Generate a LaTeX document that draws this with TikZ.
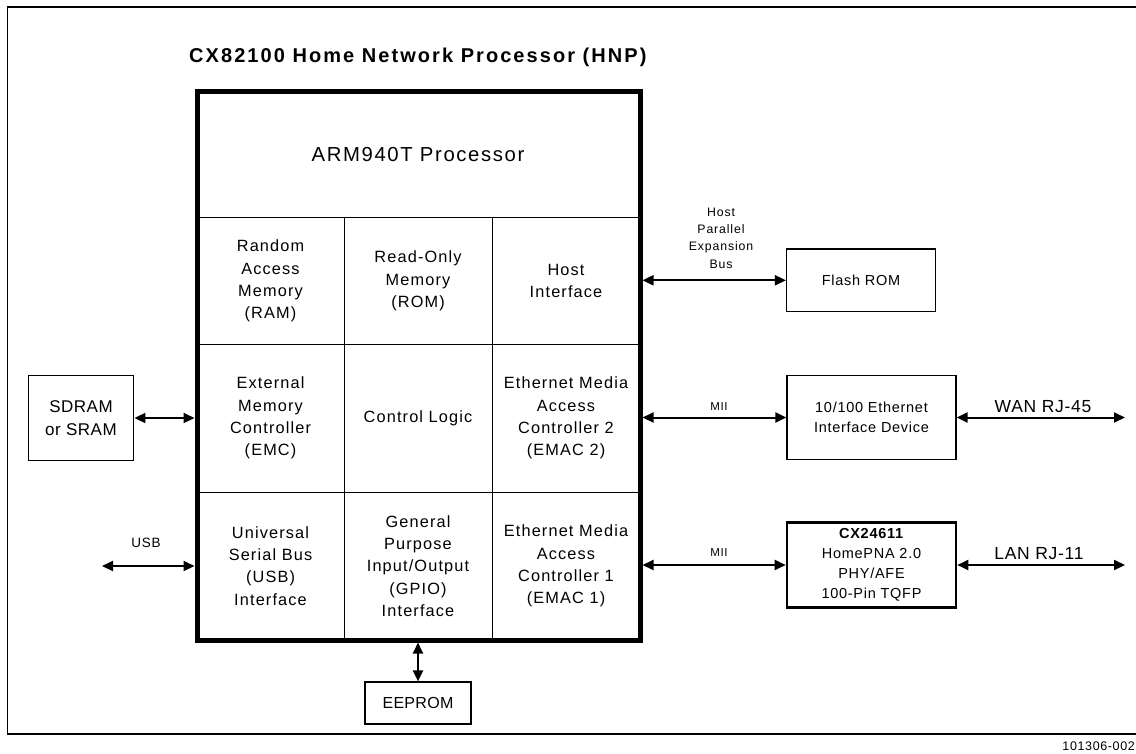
\documentclass[tikz,border=0pt]{standalone}
\usepackage{fontspec}
\setmainfont{Liberation Sans}
\usetikzlibrary{arrows.meta}
\newcommand{\tsz}[3]{\fontsize{#1}{#2}\selectfont\addfontfeature{LetterSpace=#3}}
\begin{document}
\begin{tikzpicture}[x=1pt,y=-1pt,
  frameline/.style={line width=1.2pt},
  hnpbox/.style={draw, line width=5pt, inner sep=0pt, outer sep=2.5pt},
  gridline/.style={line width=1pt},
  celltxt/.style={align=center, inner sep=0pt, font=\tsz{16.3}{22.3}{7}},
  extbox/.style={draw, line width=1.2pt, inner sep=0pt, align=center},
  boxtxt/.style={font=\tsz{14.5}{20}{5}},
  smalllbl/.style={align=center, inner sep=0pt, font=\tsz{12.3}{17.4}{7}},
  portlbl/.style={inner sep=0pt, font=\tsz{17.5}{20}{4}},
  biarrow/.style={line width=2pt, {Triangle[length=11pt,width=10pt]}-{Triangle[length=11pt,width=10pt]}}
]
\useasboundingbox (0,0) rectangle (1136,753);
% outer frame
\draw[frameline] (1136,7) -- (7.5,7) -- (7.5,734) -- (1136,734);
% title
\node[anchor=base west, inner sep=0pt, font=\tsz{20}{22}{10.3}\bfseries] (title) at (189,62.7) {CX82100 Home Network Processor (HNP)};
% grid of the HNP
\draw[gridline] (197,217) -- (640,217);
\draw[gridline] (197,344) -- (640,344);
\draw[gridline] (197,492) -- (640,492);
\draw[gridline] (344,217) -- (344,640);
\draw[gridline] (492,217) -- (492,640);
\node[hnpbox, minimum width=443pt, minimum height=549pt] (hnp) at (418.5,365.5) {};
% cell texts
\node[font=\tsz{20.3}{24}{8}] (arm) at (418,155) {ARM940T Processor};
\node[celltxt] (ram) at (270.5,281) {Random\\Access\\Memory\\(RAM)};
\node[celltxt] (rom) at (418,281) {Read-Only\\Memory\\(ROM)};
\node[celltxt] (hif) at (566,281) {Host\\Interface};
\node[celltxt] (emc) at (270.5,418) {External\\Memory\\Controller\\(EMC)};
\node[celltxt] (ctl) at (418,418) {Control Logic};
\node[celltxt] (emac2) at (566,418) {Ethernet Media\\Access\\Controller 2\\(EMAC 2)};
\node[celltxt] (usbif) at (270.5,566) {Universal\\Serial Bus\\(USB)\\Interface};
\node[celltxt] (gpio) at (418,566) {General\\Purpose\\Input/Output\\(GPIO)\\Interface};
\node[celltxt] (emac1) at (566,566) {Ethernet Media\\Access\\Controller 1\\(EMAC 1)};
% external boxes
\node[extbox, boxtxt, minimum width=149pt, minimum height=62.7pt] (flash) at (861,280.3) {Flash ROM};
\node[extbox, boxtxt, minimum width=169pt, minimum height=83.6pt] (eth) at (871.5,417.5) {10/100 Ethernet\\Interface Device};
\node[extbox, boxtxt, line width=2.6pt, minimum width=169pt, minimum height=84.6pt] (cx) at (871.5,565) {\textbf{CX24611}\\HomePNA 2.0\\PHY/AFE\\100-Pin TQFP};
\node[extbox, font=\tsz{17}{22.3}{3}, minimum width=105.7pt, minimum height=84.3pt] (sdram) at (81,418) {SDRAM\\or SRAM};
\node[extbox, font=\tsz{16}{20}{2}, minimum width=106pt, minimum height=42pt] (eeprom) at (418,703) {EEPROM};
% free ends
\coordinate (wan) at (1125,417.5);
\coordinate (lan) at (1125,565);
\coordinate (usbend) at (102,566);
% connectors
\draw[biarrow] (hnp.east |- flash.west) -- (flash.west);
\draw[biarrow] (hnp.east |- eth.west) -- (eth.west);
\draw[biarrow] (hnp.east |- cx.west) -- (cx.west);
\draw[biarrow] (eth.east) -- (wan);
\draw[biarrow] (cx.east) -- (lan);
\draw[biarrow] (sdram.east) -- (hnp.west |- sdram.east);
\draw[biarrow] (usbend) -- (hnp.west |- usbend);
\draw[biarrow] (hnp.south -| eeprom.north) -- (eeprom.north);
% labels
\node[smalllbl] (hpeb) at (721,238) {Host\\Parallel\\Expansion\\Bus};
\node[inner sep=0pt, font=\tsz{11.5}{12}{6}] (mii2) at (719,407) {MII};
\node[inner sep=0pt, font=\tsz{11.5}{12}{6}] (mii1) at (719,553) {MII};
\node[inner sep=0pt, font=\tsz{13.5}{15}{5}] (usbl) at (146,543) {USB};
\node[portlbl] (wanl) at (1043,407) {WAN RJ-45};
\node[portlbl] (lanl) at (1039,554) {LAN RJ-11};
\node[anchor=base east, inner sep=0pt, font=\tsz{12.5}{14}{5}] (fig) at (1135,750) {101306-002};
\end{tikzpicture}
\end{document}
